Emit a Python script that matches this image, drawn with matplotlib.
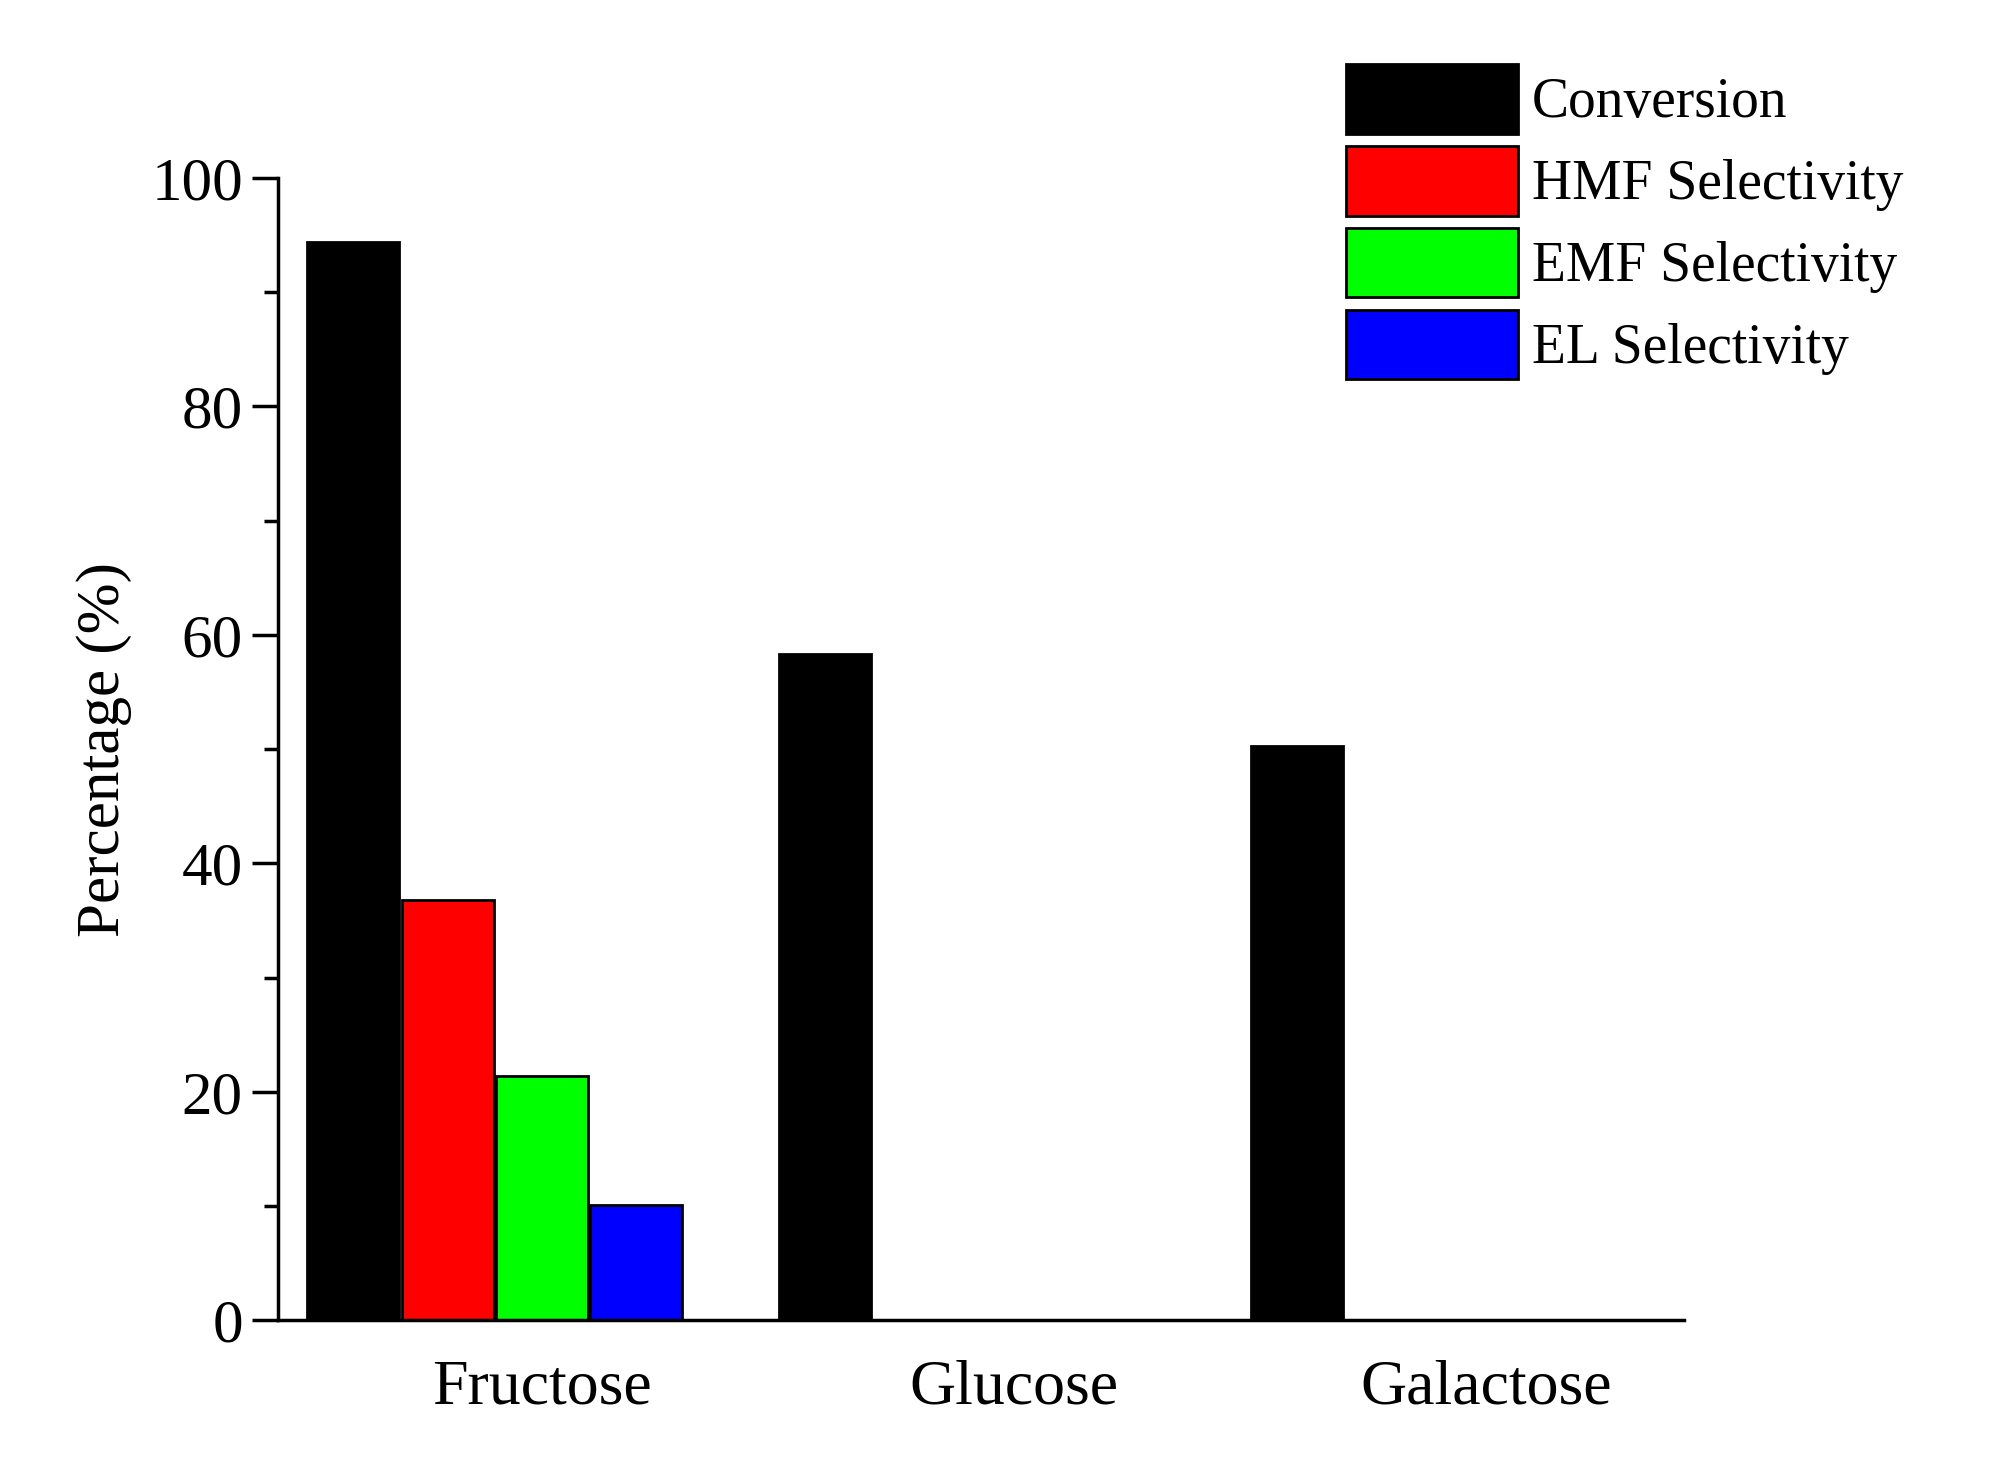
import matplotlib
matplotlib.use("Agg")
import matplotlib.pyplot as plt
import numpy as np

categories = ["Fructose", "Glucose", "Galactose"]
conversion = [94.4, 58.3, 50.3]
hmf = [36.8, 0, 0]
emf = [21.4, 0, 0]
el = [10.1, 0, 0]
series = [("Conversion", conversion, "#000000"),
          ("HMF Selectivity", hmf, "#ff0000"),
          ("EMF Selectivity", emf, "#00ff00"),
          ("EL Selectivity", el, "#0000ff")]

plt.rcParams['font.family'] = ['Liberation Serif', 'DejaVu Serif']
fig = plt.figure(figsize=(20.12, 14.59), dpi=100)
ax = fig.add_axes([0.138, 0.095, 0.699, 0.783])
x = np.arange(len(categories))
offsets = [-0.40, -0.20, 0.0, 0.20]
w = 0.195
for (name, vals, c), off in zip(series, offsets):
    ax.bar(x + off, vals, width=w, color=c, edgecolor='black', linewidth=2, label=name)

ax.set_xlim(-0.56, 2.42)
ax.set_ylim(0, 100)
ax.set_xticks(x)
ax.set_xticklabels(categories)
ax.set_yticks(range(0, 101, 20))
ax.set_yticks(range(10, 100, 20), minor=True)
for s in ['top', 'right']:
    ax.spines[s].set_visible(False)
for s in ['left', 'bottom']:
    ax.spines[s].set_linewidth(2.5)
ax.tick_params(axis='y', which='major', length=19, width=2.5, labelsize=44, pad=6)
ax.tick_params(axis='y', which='minor', length=10, width=2.5)
ax.tick_params(axis='x', length=0, labelsize=46, pad=28)
ax.set_ylabel("Percentage (%)", fontsize=44, labelpad=14)

fig.legend(loc='upper left', bbox_to_anchor=(0.655, 0.975), frameon=False,
           fontsize=40, handlelength=3.1, handleheight=1.55, labelspacing=0.22,
           handletextpad=0.25, borderpad=0)
fig.savefig("out.png", dpi=100)
